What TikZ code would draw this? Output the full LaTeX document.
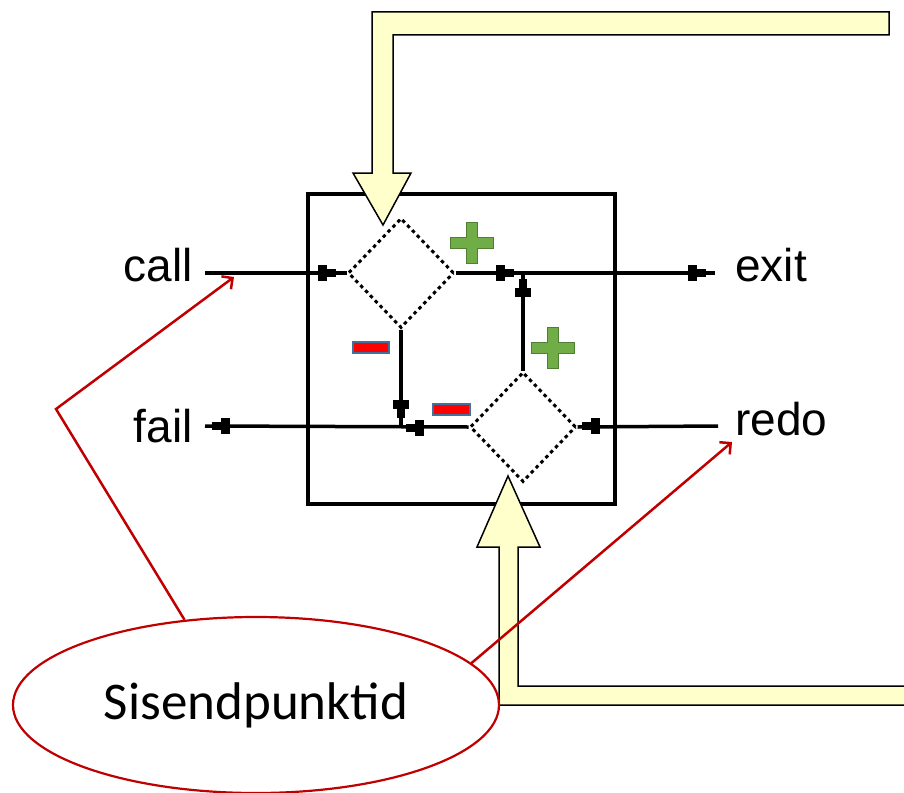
\documentclass[tikz,border=0pt]{standalone}
\usepackage{fontspec}
\setmainfont{Liberation Sans}
\newfontfamily\notefont{Carlito}
\usetikzlibrary{shapes.geometric,arrows.meta}
\definecolor{ylw}{HTML}{FFFFCC}
\definecolor{plusfill}{HTML}{70AD47}
\definecolor{plusedge}{HTML}{507E32}
\definecolor{minusedge}{HTML}{41719C}
\definecolor{notered}{HTML}{C00000}
\begin{document}
\begin{tikzpicture}[x=1pt,y=-1pt,
  wire/.style={line width=3.5pt,black},
  boxframe/.style={draw,line width=4pt,rectangle,inner sep=0pt,minimum width=307pt,minimum height=310pt},
  gate/.style={diamond,draw,line width=3pt,dash pattern=on 3.5pt off 3.5pt,fill=white,inner sep=0pt,minimum width=106pt,minimum height=110pt},
  port/.style={font=\fontsize{46}{50}\selectfont,inner sep=0pt},
  bigarrow/.style={fill=ylw,draw=black,line width=1.5pt,line join=miter},
  notebox/.style={ellipse,draw=notered,line width=2.2pt,fill=white,minimum width=486pt,minimum height=176pt,inner sep=0pt,font=\notefont\fontsize{53}{60}\selectfont},
  pointer/.style={draw=notered,line width=2.5pt,-{Straight Barb[length=8pt,width=16pt,line width=2.5pt]}},
  pxarr/.pic={\fill (-9,-8) rectangle (0,8); \fill (0,-4) rectangle (9,4);},
  plussign/.pic={\filldraw[fill=plusfill,draw=plusedge,line width=1.5pt]
     (-5.5,-20.5) -- (5.5,-20.5) -- (5.5,-5.5) -- (21.5,-5.5) -- (21.5,5.5) -- (5.5,5.5)
     -- (5.5,20.5) -- (-5.5,20.5) -- (-5.5,5.5) -- (-21.5,5.5) -- (-21.5,-5.5) -- (-5.5,-5.5) -- cycle;},
  minussign/.style={fill=red,draw=minusedge,line width=1.5pt}
]
\useasboundingbox (0,0) rectangle (904,792);

% frame
\node[boxframe] (box) at (461.5,349) {};

% gates
\node[gate] (d1) at (401,273) {};
\node[gate] (d2) at (523,427) {};

% port labels
\node[port,anchor=base east] (call) at (193,281) {call};
\node[port,anchor=base east] (fail) at (193,442) {fail};
\node[port,anchor=base west] (exit) at (735,281) {exit};
\node[port,anchor=base west] (redo) at (735,435) {redo};

\coordinate (callend) at (205,273);
\coordinate (failend) at (205,426);
\coordinate (exitend) at (715,273);
\coordinate (redoend) at (718,426);
\coordinate (j1) at (401,426);
\coordinate (j2) at (523,273);

% wires
\draw[wire] (callend) -- (d1.west);
\draw[wire] (d1.east) -- (exitend);
\draw[wire] (d1.south) -- (j1);
\draw[wire] (d2.west) -- (failend);
\draw[wire] (d2.north) -- (j2);
\draw[wire] (redoend) -- (d2.east);

% pixel arrow heads
\pic at (327,273) {pxarr};
\pic at (505,273) {pxarr};
\pic at (697,273) {pxarr};
\pic[rotate=90] at (523,288) {pxarr};
\pic[rotate=-90] at (401,409) {pxarr};
\pic[rotate=180] at (221,426) {pxarr};
\pic[rotate=180] at (415,428) {pxarr};
\pic[rotate=180] at (591,426) {pxarr};

% signs
\pic at (472,243) {plussign};
\pic at (553,348) {plussign};
\draw[minussign] (353,342) rectangle (389,353);
\draw[minussign] (433,404) rectangle (470,415);

% big yellow arrows
\draw[bigarrow] (889,12) -- (372,12) -- (372,173) -- (353,173) -- (383,225) -- (411,173)
  -- (393,173) -- (393,35) -- (889,35) -- cycle;
\draw[bigarrow] (508,476) -- (540,547) -- (518,547) -- (518,686) -- (910,686)
  -- (910,705) -- (499,705) -- (499,547) -- (477,547) -- cycle;

% note
\node[notebox] (note) at (256,705) {Sisendpunktid};
\coordinate (bend) at (56,409);
\coordinate (calltip) at (234,277);
\coordinate (redotip) at (732,442);
\draw[pointer] (note.130) -- (bend) -- (calltip);
\draw[pointer] (note.11) -- (redotip);
\end{tikzpicture}
\end{document}
